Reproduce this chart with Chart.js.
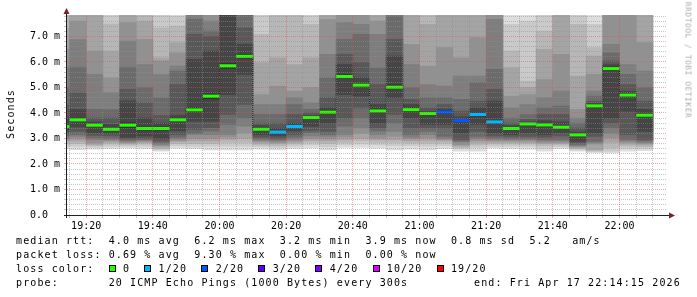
<!DOCTYPE html>
<html>
<head>
<meta charset="utf-8">
<script src="https://cdn.jsdelivr.net/npm/chart.js@4/dist/chart.umd.min.js"></script>
<style>
html,body{margin:0;padding:0;background:#fff;}
#wrap{position:relative;width:697px;height:297px;overflow:hidden;background:#fff;}
#c{position:absolute;left:0;top:0;width:697px;height:297px;}
.mono{font-family:'DejaVu Sans Mono',monospace;font-size:10px;letter-spacing:1.11px;color:#000;}
.ln{position:absolute;left:16px;height:14px;line-height:14px;white-space:pre;}
#endtxt{position:absolute;left:474px;top:275.7px;line-height:14px;white-space:pre;}
.box{position:absolute;width:5px;height:5px;border:1px solid #000;top:264.5px;}
#ylabel{position:absolute;left:10.8px;top:114px;transform:translate(-50%,-50%) rotate(-90deg);line-height:12px;white-space:pre;}
#wm{position:absolute;left:687.7px;top:60px;transform:translate(-50%,-50%) rotate(90deg);font-family:'DejaVu Sans Mono',monospace;font-size:7.8px;letter-spacing:0.6px;color:#aaa;white-space:pre;line-height:9px;}
</style>
</head>
<body>
<div id="wrap">
<canvas id="c" width="697" height="297"></canvas>
<div id="ylabel" class="mono">Seconds</div>
<div id="wm">RRDTOOL / TOBI OETIKER</div>
<div class="ln mono" style="top:233.7px">median rtt:  4.0 ms avg  6.2 ms max  3.2 ms min  3.9 ms now  0.8 ms sd  5.2   am/s</div>
<div class="ln mono" style="top:247.7px">packet loss: 0.69 % avg  9.30 % max  0.00 % min  0.00 % now</div>
<div class="ln mono" id="lossrow" style="top:261.7px"></div>
<div class="ln mono" style="top:275.7px">probe:       20 ICMP Echo Pings (1000 Bytes) every 300s</div>
<div id="endtxt" class="mono">end: Fri Apr 17 22:14:15 2026</div>
</div>
<script>
// ---- data (ms) ----
const windowStart = '19:14:15';
const windowEnd = '22:14:15';
const yMax = 7.84;
const timeLabels = ['19:20','19:40','20:00','20:20','20:40','21:00','21:20','21:40','22:00'];
const yLabels = ['0.0  ','1.0 m','2.0 m','3.0 m','4.0 m','5.0 m','6.0 m','7.0 m'];
const intervals = ['19:10','19:15','19:20','19:25','19:30','19:35','19:40','19:45','19:50','19:55',
  '20:00','20:05','20:10','20:15','20:20','20:25','20:30','20:35','20:40','20:45','20:50','20:55',
  '21:00','21:05','21:10','21:15','21:20','21:25','21:30','21:35','21:40','21:45','21:50','21:55',
  '22:00','22:05'];
const median = [3.47,3.73,3.52,3.36,3.52,3.39,3.39,3.73,4.12,4.66,5.85,6.22,3.36,3.25,3.47,3.82,4.03,5.43,
  5.09,4.08,5.01,4.13,3.98,4.03,3.70,3.94,3.65,3.39,3.57,3.53,3.44,3.14,4.28,5.74,4.70,3.91];
const lostPings = [0,0,0,0,0,0,0,0,0,0,0,0,0,1,1,0,0,0,0,0,0,0,0,2,2,1,1,0,0,0,0,0,0,0,0,0];
const ping1 = [2.6,2.56,2.58,2.6,2.62,2.6,2.5,2.62,2.6,2.55,2.55,2.55,2.58,2.55,2.6,2.62,2.55,2.65,2.65,2.62,2.55,2.58,2.55,2.6,2.5,2.5,2.62,2.6,2.58,2.5,2.6,2.5,2.44,2.43,2.5,2.52];
const ping2 = [2.7,2.7,2.66,2.7,2.7,2.7,2.55,2.72,2.7,2.7,2.7,2.7,2.68,2.65,2.7,2.75,2.68,2.75,2.78,2.75,2.72,2.72,2.7,2.72,2.6,2.65,2.7,2.7,2.7,2.62,2.68,2.55,2.48,2.5,2.6,2.6];
const ping3 = [2.8,2.8,2.72,2.78,2.75,2.78,2.6,2.8,2.8,2.8,2.85,2.85,2.75,2.72,2.78,2.85,2.8,2.85,2.9,2.85,2.85,2.82,2.82,2.82,2.65,2.75,2.78,2.78,2.78,2.72,2.75,2.6,2.52,2.63,2.7,2.68];
const ping4 = [2.9,2.89,2.77,2.85,2.8,2.84,2.66,2.87,2.9,2.9,2.96,3.0,2.82,2.8,2.85,2.92,2.9,2.95,3.0,2.95,2.95,2.9,2.92,2.9,2.7,2.85,2.85,2.85,2.84,2.8,2.8,2.64,2.56,2.85,2.78,2.75];
const ping5 = [2.95,2.98,2.83,2.9,2.84,2.88,2.72,2.92,3.0,3.0,3.05,3.22,2.88,2.85,2.9,3.0,2.98,3.05,3.2,3.02,3.08,2.98,3.02,2.95,2.76,2.92,2.9,2.9,2.9,2.85,2.85,2.68,2.78,3.02,2.85,2.8];
const ping6 = [3.0,3.08,2.95,2.95,2.88,2.92,2.77,2.98,3.15,3.15,3.15,3.48,2.93,2.9,2.97,3.1,3.08,3.15,3.41,3.15,3.28,3.05,3.15,3.0,2.86,3.0,2.96,2.95,2.95,2.9,2.9,2.72,2.83,3.2,2.9,2.85];
const ping7 = [3.1,3.15,3.02,3.0,2.93,2.95,2.82,3.05,3.2,3.3,3.55,3.8,2.98,2.95,3.05,3.22,3.15,3.48,3.8,3.3,3.6,3.15,3.28,3.08,2.9,3.08,3.02,3.0,3.0,2.96,2.96,2.76,2.89,3.41,2.96,2.9];
const ping8 = [3.2,3.28,3.12,3.1,2.98,3.0,2.9,3.15,3.35,3.42,3.94,4.33,3.05,3.0,3.15,3.3,3.28,3.8,4.2,3.41,3.94,3.41,3.41,3.4,2.96,3.28,3.1,3.08,3.08,3.05,3.1,2.82,3.08,3.6,3.15,2.96];
const ping9 = [3.3,3.45,3.22,3.2,3.04,3.1,3.0,3.3,3.68,3.68,4.72,5.51,3.15,3.1,3.3,3.48,3.6,4.72,4.66,3.6,4.6,3.8,3.55,3.55,3.22,3.55,3.22,3.15,3.22,3.15,3.22,2.89,3.22,3.8,4.07,3.28];
const ping10 = [3.43,3.7,3.48,3.34,3.42,3.33,3.33,3.68,4.05,4.55,5.75,6.15,3.32,3.22,3.44,3.78,3.98,5.38,5.03,4.02,4.95,4.08,3.95,4.0,3.65,3.88,3.6,3.35,3.54,3.48,3.4,3.1,4.22,5.68,4.64,3.86];
const ping11 = [3.5,3.78,3.56,3.38,3.62,3.45,3.45,3.78,4.2,4.75,5.95,6.3,3.4,3.28,3.5,3.86,4.08,5.5,5.15,4.15,5.1,4.2,4.0,4.07,3.75,4.0,3.7,3.42,3.6,3.58,3.48,3.18,4.33,5.8,4.76,3.96];
const ping12 = [3.8,4.13,3.65,3.55,4.47,3.8,3.6,3.9,6.1,6.43,8.0,6.69,3.5,3.4,3.6,3.9,4.2,5.9,5.38,4.33,6.23,4.33,4.05,4.15,3.85,4.2,4.46,3.5,3.65,3.7,3.65,3.25,4.38,5.9,4.85,4.14];
const ping13 = [4.3,4.79,3.8,3.8,4.92,4.4,3.9,5.11,7.08,7.0,8.3,7.34,3.6,3.6,3.94,4.0,4.6,6.3,5.97,5.11,6.89,4.53,4.2,4.33,4.07,4.46,4.92,3.6,3.75,3.94,3.94,3.41,4.46,6.04,5.11,4.46];
const ping14 = [5.0,5.8,4.14,4.13,5.8,4.99,4.59,5.64,7.67,7.21,8.6,8.0,3.94,3.94,4.33,4.14,5.38,6.89,7.08,5.77,7.8,4.99,4.6,4.6,4.53,5.18,5.71,3.8,3.94,4.2,4.27,3.6,4.66,6.36,5.51,4.99];
const ping15 = [5.8,6.88,5.51,4.79,6.82,5.9,5.5,5.84,8.1,7.6,9.0,8.3,4.33,4.33,4.6,4.4,6.3,7.54,7.47,7.08,8.1,5.9,5.11,5.05,5.45,5.45,7.67,4.2,4.33,4.6,4.86,3.8,4.86,6.69,5.9,5.64];
const ping16 = [6.5,7.6,6.43,5.38,7.54,6.89,6.04,6.36,8.4,8.1,9.4,8.7,4.72,5.05,4.86,4.99,7.67,8.1,8.1,7.6,8.5,6.69,5.84,6.56,6.16,6.95,8.1,4.66,4.72,5.31,6.3,4.14,5.51,8.1,8.0,6.76];
const ping17 = [7.3,8.1,8.0,6.43,8.1,7.6,6.16,6.76,8.8,8.5,9.8,9.1,5.97,6.16,5.9,6.16,8.1,8.5,8.5,8.1,8.9,8.0,7.47,8.0,8.0,8.0,8.5,5.77,4.99,6.49,8.0,5.45,6.23,8.5,8.5,8.0];
const ping18 = [8.2,8.5,8.4,7.48,8.5,8.2,7.34,7.41,9.2,9.0,10.3,9.6,7.08,8.0,8.0,7.47,8.5,8.9,8.9,8.6,9.4,8.5,8.1,8.5,8.5,8.5,8.9,6.43,5.25,7.21,8.5,7.47,6.56,8.9,9.0,8.5];
const ping19 = [8.8,9.0,8.9,8.2,9.0,8.7,8.2,7.8,9.7,9.6,10.9,10.2,8.1,8.5,8.5,8.1,9.0,9.4,9.4,9.1,9.9,9.0,8.6,9.0,9.0,9.0,9.4,7.47,7.6,8.1,9.0,8.1,7.47,9.4,9.5,9.0];
const ping20 = [9.6,9.8,9.6,9.0,9.7,9.4,9.0,8.6,10.4,10.3,11.6,11.0,8.8,9.2,9.2,8.8,9.7,10.1,10.1,9.8,10.6,9.7,9.3,9.7,9.7,9.7,10.1,8.3,8.3,8.8,9.7,8.8,8.3,10.1,10.2,9.7];
const lossThresholds = [0,1,2,3,4,10,19];
const lossLabels = ['0','1/20','2/20','3/20','4/20','10/20','19/20'];
const lossColors = ['#26ff00','#00b8ff','#0059ff','#5e00ff','#7e00ff','#dd00ff','#ff0000'];

// ---- helpers ----
const toMin = s => { const p = s.split(':').map(Number); return (p[0]-19)*60 + p[1] + (p[2]||0)/60; };
const fmtMin = v => { const t = Math.round(v); const h = 19 + Math.floor(t/60); const m = t % 60; return String(h).padStart(2,'0') + ':' + String(m).padStart(2,'0'); };
const shade = k => { const v = 50 + Math.floor(190/10*(10-k)); return 'rgb('+v+','+v+','+v+')'; };
const lossColor = n => { let idx = 0; lossThresholds.forEach((t,i)=>{ if (n >= t) idx = i; }); return lossColors[idx]; };
const GRID = 'rgba(144,144,144,0.5)';
const MGRID = 'rgba(224,80,80,0.5)';
const MINOR_STEP = 5; // minutes between minor vertical grid lines

const pings = [ping1,ping2,ping3,ping4,ping5,ping6,ping7,ping8,ping9,ping10,ping11,ping12,ping13,ping14,ping15,ping16,ping17,ping18,ping19,ping20];
const xs = intervals.map(t => toMin(t) + 2.5);
const majorX = timeLabels.map(toMin);

const datasets = [];
for (let k = 1; k <= 10; k++) {
  const lo = pings[k-1], hi = pings[20-k];
  datasets.push({
    type: 'bar',
    data: xs.map((x,i) => ({x: x, y: [lo[i], hi[i]]})),
    backgroundColor: shade(k),
    borderWidth: 0,
    grouped: false,
    barPercentage: 1,
    categoryPercentage: 1,
    order: 20 - k,
    clip: 0
  });
}
datasets.push({
  type: 'line',
  data: xs.map((x,i) => ({x: x, y: median[i]})),
  stepped: 'middle',
  borderColor: '#202020',
  borderWidth: 1,
  borderDash: [1,1],
  pointRadius: 0,
  fill: false,
  order: 2,
  clip: 0
});
const medCols = lostPings.map(lossColor);
datasets.push({
  type: 'line',
  data: xs.map((x,i) => ({x: x, y: median[i]})),
  showLine: false,
  pointStyle: 'line',
  pointRadius: 8.33,
  pointBorderWidth: 3,
  pointBorderColor: medCols,
  pointBackgroundColor: medCols,
  order: 1,
  clip: 0
});

const isInt = v => Math.abs(v - Math.round(v)) < 1e-6;
const isMajX = v => majorX.some(m => Math.abs(m - v) < 1e-6);

// dotted RRDtool-style grid drawn over the data, from the library's scale ticks
const gridPlugin = {
  id: 'rrdGrid',
  afterDatasetsDraw(chart) {
    const {ctx, chartArea: a, scales} = chart;
    const xS = scales.x, yS = scales.y;
    ctx.save();
    ctx.beginPath();
    ctx.rect(a.left, a.top, a.right - a.left, a.bottom - a.top + 1);
    ctx.clip();
    ctx.lineWidth = 1;
    ctx.setLineDash([1,1]);
    const pass = major => {
      ctx.strokeStyle = major ? MGRID : GRID;
      ctx.beginPath();
      yS.ticks.forEach(t => {
        if (isInt(t.value) !== major) return;
        const py = Math.floor(yS.getPixelForValue(t.value)) + 0.5;
        ctx.moveTo(a.left, py); ctx.lineTo(a.right, py);
      });
      xS.ticks.forEach(t => {
        if (isMajX(t.value) !== major) return;
        const px = Math.floor(xS.getPixelForValue(t.value)) + 0.5;
        ctx.moveTo(px, a.bottom); ctx.lineTo(px, a.top);
      });
      ctx.stroke();
    };
    pass(false);
    pass(true);
    ctx.restore();
  }
};

const axesPlugin = {
  id: 'rrdAxes',
  afterDraw(chart) {
    const {ctx, chartArea: a} = chart;
    ctx.save();
    ctx.strokeStyle = '#202020';
    ctx.lineWidth = 1;
    ctx.beginPath();
    ctx.moveTo(a.left - 3, a.bottom + 0.5);
    ctx.lineTo(a.right + 3, a.bottom + 0.5);
    ctx.moveTo(a.left - 0.5, a.bottom + 3);
    ctx.lineTo(a.left - 0.5, a.top - 2);
    ctx.stroke();
    ctx.fillStyle = '#802020';
    ctx.beginPath();
    ctx.moveTo(a.right + 2, a.bottom + 0.5 - 3);
    ctx.lineTo(a.right + 8, a.bottom + 0.5);
    ctx.lineTo(a.right + 2, a.bottom + 0.5 + 3);
    ctx.closePath();
    ctx.fill();
    ctx.beginPath();
    ctx.moveTo(a.left - 0.5 - 3, a.top - 1);
    ctx.lineTo(a.left - 0.5, a.top - 7);
    ctx.lineTo(a.left - 0.5 + 3, a.top - 1);
    ctx.closePath();
    ctx.fill();
    ctx.restore();
  }
};

const tickFont = {family: "'DejaVu Sans Mono', monospace", size: 10};

new Chart(document.getElementById('c'), {
  type: 'bar',
  data: {datasets: datasets},
  options: {
    responsive: false,
    animation: false,
    devicePixelRatio: 1,
    events: [],
    layout: {padding: {left: 0, right: 30, top: 15, bottom: 0}},
    plugins: {legend: {display: false}, tooltip: {enabled: false}},
    scales: {
      x: {
        type: 'linear',
        min: toMin(windowStart),
        max: toMin(windowEnd),
        offset: false,
        border: {display: false},
        grid: {
          offset: false,
          drawOnChartArea: false,
          color: c => (c.tick && isMajX(c.tick.value)) ? MGRID : GRID,
          tickColor: c => (c.tick && isMajX(c.tick.value)) ? MGRID : GRID,
          lineWidth: 1,
          drawTicks: true,
          tickLength: 3
        },
        afterBuildTicks: s => {
          const t = [];
          for (let v = Math.ceil(s.min / MINOR_STEP) * MINOR_STEP; v <= s.max; v += MINOR_STEP) t.push({value: v});
          s.ticks = t;
        },
        ticks: {
          autoSkip: false,
          maxRotation: 0,
          minRotation: 0,
          padding: 2,
          color: '#000',
          font: tickFont,
          callback: v => { const i = majorX.findIndex(m => Math.abs(m - v) < 1e-6); return i >= 0 ? timeLabels[i] : ''; }
        },
        afterFit: s => { s.height = 82; }
      },
      y: {
        type: 'linear',
        min: 0,
        max: yMax,
        border: {display: false},
        grid: {
          drawOnChartArea: false,
          color: c => (c.tick && isInt(c.tick.value)) ? MGRID : GRID,
          tickColor: c => (c.tick && isInt(c.tick.value)) ? MGRID : GRID,
          lineWidth: 1,
          drawTicks: true,
          tickLength: 3
        },
        ticks: {
          stepSize: 0.2,
          autoSkip: false,
          includeBounds: false,
          padding: 4,
          color: '#000',
          font: tickFont,
          callback: v => isInt(v) ? (yLabels[Math.round(v)] || '') : ''
        },
        afterFit: s => { s.width = 67; }
      }
    }
  },
  plugins: [gridPlugin, axesPlugin]
});

// ---- loss colour legend row ----
(function () {
  const row = document.getElementById('lossrow');
  const adv = 7.13;
  let text = 'loss color:';
  let col = 13;
  const wrap = document.getElementById('wrap');
  lossLabels.forEach((lab, i) => {
    while (text.length < col + 2) text += ' ';
    text += lab;
    const b = document.createElement('div');
    b.className = 'box';
    b.style.left = (16 + col * adv) + 'px';
    b.style.background = lossColors[i];
    wrap.appendChild(b);
    col = col + 2 + lab.length + 2;
  });
  row.textContent = text;
})();
</script>
</body>
</html>
